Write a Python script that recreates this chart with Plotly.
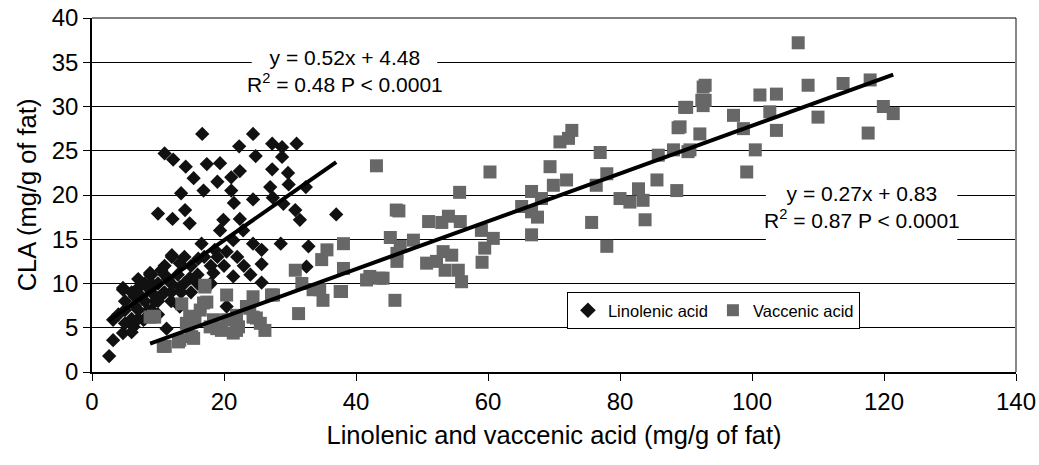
import plotly.graph_objects as go

# Linolenic acid (x, CLA)
lin_x = [2.6, 16.7, 24.4, 22.3, 27.3, 28.8, 31.0, 11.0, 12.3, 24.8, 28.8, 17.4, 19.4, 14.2, 22.4, 27.3,
         29.7, 15.4, 19.0, 21.1, 29.8, 27.0, 32.4, 13.5, 16.9, 21.1, 24.4, 21.5, 27.4, 29.0, 10.0, 14.1,
         12.2, 14.8, 30.8, 31.5, 37.0, 19.9, 22.4, 19.4, 22.9, 16.6, 18.6, 20.4, 21.4, 24.4, 25.7, 28.6,
         32.8, 12.1, 13.3, 16.1, 25.7, 32.5, 8.8, 4.7, 6.5, 21.4, 25.7, 18.4, 14.8, 13.3, 10.8, 9.8,
         3.2, 3.2, 4.7, 6.3, 7.8, 11.3, 20.4, 13.3,
         5.0, 6.0, 7.0, 8.0, 8.0, 9.0, 10.0, 11.0, 12.0, 6.0, 7.0, 9.0, 10.0, 11.0, 12.0, 13.0,
         14.0, 15.0, 16.0, 17.0, 18.0, 19.0, 5.0, 6.0, 8.0, 9.0, 10.0, 12.0, 4.0, 5.0, 7.0, 9.0,
         15.0, 16.0, 18.0, 14.0, 11.0, 20.0, 22.0, 23.0, 24.0, 4.7, 8.8, 12.1,
         6.5, 7.5, 8.5, 10.5, 11.5, 7.0, 8.5, 9.5, 13.5, 15.5]
lin_y = [1.8, 26.9, 26.9, 25.5, 25.8, 25.4, 25.8, 24.7, 24.0, 24.4, 24.3, 23.5, 23.6, 23.2, 22.7, 22.9,
         22.5, 21.9, 21.5, 22.0, 21.2, 20.9, 20.9, 20.2, 20.5, 20.5, 19.5, 19.1, 19.7, 19.0, 17.9, 18.3,
         17.3, 16.8, 18.3, 17.2, 17.8, 17.2, 17.3, 16.0, 16.0, 14.5, 13.8, 13.6, 14.9, 14.5, 13.8, 14.5,
         14.2, 13.0, 12.3, 12.8, 12.2, 11.9, 11.0, 9.5, 8.5, 10.8, 10.1, 11.2, 10.6, 9.6, 8.9, 8.1,
         5.9, 3.6, 4.4, 5.1, 5.9, 4.9, 7.4, 7.4,
         7.0, 6.0, 7.0, 8.0, 10.0, 9.0, 10.0, 9.0, 10.0, 9.0, 9.5, 11.0, 8.0, 11.0, 8.0, 11.0,
         10.0, 12.0, 11.0, 13.0, 12.0, 13.0, 5.5, 4.5, 6.0, 7.0, 6.5, 9.0, 6.5, 8.0, 10.5, 10.0,
         9.0, 10.0, 10.0, 13.0, 12.0, 12.0, 13.0, 12.0, 11.0, 9.3, 11.2, 13.2,
         7.5, 8.5, 9.5, 11.5, 10.5, 6.0, 7.0, 8.0, 9.0, 10.5]

# Vaccenic acid (x, CLA)
vac_x = [43.1, 46.1, 45.2, 46.2, 45.9, 38.1, 35.6, 34.8, 38.1, 30.8, 31.8, 31.3, 34.5, 35.0, 37.8, 42.1,
         44.1, 17.1, 20.4, 13.6, 9.5, 16.9, 24.4, 27.5, 23.9, 24.9, 26.2, 17.9, 19.6, 21.4, 22.2, 15.1,
         13.1, 11.1, 15.6, 14.3, 9.3, 17.1, 27.2, 33.5, 37.6, 41.6, 21.9, 18.9, 10.8, 13.3, 15.4, 14.8,
         16.4, 17.4, 21.9, 23.4, 24.4, 25.5, 18.4, 20.4, 8.8,
         60.3, 55.7, 46.5, 46.7, 48.7, 46.2, 43.6, 51.0, 53.0, 54.0, 55.8, 50.7, 52.2, 53.2, 54.5, 53.5,
         55.5, 56.0, 59.0, 60.8, 59.5, 59.1, 65.1, 66.6, 66.6, 67.5, 66.6, 68.1, 69.4, 69.9, 70.9, 72.2,
         72.7, 71.9, 75.7, 76.4, 77.0, 78.0, 78.0, 80.0, 81.5, 82.8, 83.5, 83.8, 85.6, 85.8, 88.1, 88.6,
         88.8, 89.8, 90.3, 92.1, 92.6, 92.4, 92.6,
         107.0, 92.9, 92.9, 90.1, 89.1, 90.6, 101.2, 103.7, 108.5, 113.8, 117.9, 97.2, 98.7, 102.7, 103.7,
         110.0, 119.9, 121.4, 117.6, 100.5, 99.2]
vac_y = [23.3, 18.3, 15.2, 13.4, 8.1, 14.5, 13.8, 12.7, 11.7, 11.5, 10.0, 6.6, 9.3, 8.1, 9.1, 10.8,
         10.6, 9.6, 8.7, 7.7, 6.2, 7.8, 8.5, 8.7, 7.2, 6.1, 4.7, 5.1, 4.7, 4.4, 5.1, 4.0,
         3.4, 2.9, 5.9, 5.5, 6.3, 9.8, 8.7, 9.3, 9.1, 10.4, 4.7, 4.9, 2.9, 3.6, 3.8, 6.3,
         7.0, 7.9, 6.4, 7.4, 6.2, 5.5, 5.9, 5.9, 6.2,
         22.6, 20.3, 18.2, 14.2, 14.9, 12.5, 10.6, 17.0, 16.9, 17.6, 17.0, 12.3, 12.5, 13.6, 13.2, 11.5,
         11.5, 10.2, 16.0, 15.1, 14.0, 12.4, 18.7, 20.4, 18.1, 17.5, 15.5, 19.6, 23.2, 21.1, 26.0, 26.4,
         27.3, 21.7, 16.9, 21.1, 24.8, 22.4, 14.2, 19.6, 19.2, 20.7, 19.4, 17.2, 21.7, 24.5, 25.1, 20.5,
         27.6, 29.9, 24.9, 26.9, 32.2, 30.7, 30.1,
         37.2, 32.4, 30.7, 29.9, 27.7, 25.1, 31.3, 31.4, 32.4, 32.6, 33.0, 29.0, 27.5, 29.4, 27.3,
         28.8, 30.0, 29.2, 27.0, 25.1, 22.6]

# Published regression lines (slope, intercept)
lin_fit = (0.52, 4.48)
vac_fit = (0.27, 0.83)

FONT = "Liberation Sans, Arial, sans-serif"

fig = go.Figure()
fig.add_trace(go.Scatter(x=lin_x, y=lin_y, mode="markers", name="Linolenic acid",
                         marker=dict(symbol="diamond", size=11, color="#111111", line=dict(width=0))))
fig.add_trace(go.Scatter(x=vac_x, y=vac_y, mode="markers", name="Vaccenic acid",
                         marker=dict(symbol="square", size=13, color="#676767", line=dict(width=0))))

for xs, (m, b) in ((lin_x, lin_fit), (vac_x, vac_fit)):
    x0, x1 = min(xs), max(xs)
    fig.add_trace(go.Scatter(x=[x0, x1], y=[m * x0 + b, m * x1 + b], mode="lines",
                             line=dict(color="black", width=4), showlegend=False, hoverinfo="skip"))

# white label boxes (hide gridlines under the equations)
fig.add_shape(type="rect", xref="x", yref="y", x0=24.2, x1=52.3, y0=30.6, y1=37.4,
              fillcolor="white", line=dict(width=0), layer="above")
fig.add_shape(type="rect", xref="x", yref="y", x0=102.1, x1=131.1, y0=14.7, y1=22.1,
              fillcolor="white", line=dict(width=0), layer="above")

fig.add_annotation(x=38.3, y=34.0, xref="x", yref="y",
                   text="y = 0.52x + 4.48<br>R<sup>2</sup> = 0.48 P &lt; 0.0001",
                   showarrow=False,
                   font=dict(family=FONT, size=21, color="black"))
fig.add_annotation(x=116.6, y=18.6, xref="x", yref="y",
                   text="y = 0.27x + 0.83<br>R<sup>2</sup> = 0.87 P &lt; 0.0001",
                   showarrow=False,
                   font=dict(family=FONT, size=21, color="black"))

# frame: top and right
fig.add_shape(type="line", xref="paper", yref="paper", x0=1, x1=1, y0=0, y1=1,
              line=dict(color="#888888", width=2))
fig.add_shape(type="line", xref="paper", yref="paper", x0=0, x1=1, y0=1, y1=1,
              line=dict(color="black", width=1))

fig.update_layout(
    width=1039, height=465,
    margin=dict(l=92, r=23, t=18, b=93, autoexpand=False),
    paper_bgcolor="white", plot_bgcolor="white",
    font=dict(family=FONT, size=24, color="black"),
    showlegend=True,
    legend=dict(orientation="h", x=0.514, y=0.226, xanchor="left", yanchor="top",
                bordercolor="black", borderwidth=1, bgcolor="white",
                font=dict(family=FONT, size=16.5), itemsizing="constant",
                tracegroupgap=0, itemwidth=30),
    xaxis=dict(range=[0, 140], dtick=20, tick0=0, showgrid=False, zeroline=False,
               showline=True, linecolor="black", linewidth=2, automargin=False,
               ticks="outside", ticklen=7, tickcolor="black",
               title=dict(text="Linolenic and vaccenic acid (mg/g of fat)", font=dict(size=25.5), standoff=12)),
    yaxis=dict(range=[0, 40], dtick=5, tick0=0, showgrid=True, gridcolor="black", gridwidth=1,
               zeroline=False, showline=True, linecolor="black", linewidth=1.5, automargin=False,
               ticks="outside", ticklen=7, tickcolor="black",
               title=dict(text="CLA (mg/g of fat)", font=dict(size=25.5), standoff=8)),
)

fig.write_html("out.html")
